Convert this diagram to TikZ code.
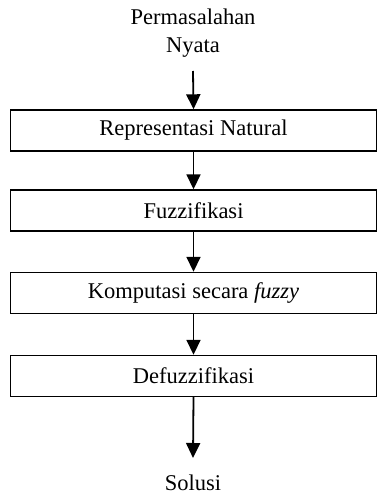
\documentclass[tikz,border=0pt]{standalone}
\usepackage{fontspec}
\setmainfont{Liberation Serif}
\usetikzlibrary{arrows.meta}
\begin{document}
\begin{tikzpicture}[x=1pt,y=-1pt,
  stepbox/.style={draw, line width=1.4pt, minimum width=366pt, minimum height=41pt, inner sep=0pt, font=\fontsize{22.5}{28}\selectfont},
  lbl/.style={font=\fontsize{22.5}{28}\selectfont, align=center, inner sep=0pt},
  flow/.style={line width=1.8pt, -{Triangle[length=15pt,width=14pt]}}]
\useasboundingbox (0,0) rectangle (377,494);
\node[lbl] (p) at (193,33) {Permasalahan\\Nyata};
\coordinate (ps) at (193,71);
\node[stepbox] (b1) at (193.5,130.5) {Representasi Natural};
\node[stepbox] (b2) at (193.5,210.5) {Fuzzifikasi};
\node[stepbox] (b3) at (193.5,293) {Komputasi secara \textit{fuzzy}};
\node[stepbox] (b4) at (193.5,376) {Defuzzifikasi};
\coordinate (se) at (193,458);
\node[lbl, anchor=base] (s) at (193,490) {Solusi};
\draw[flow] (ps) -- (b1.north);
\draw[flow] (b1.south) -- (b2.north);
\draw[flow] (b2.south) -- (b3.north);
\draw[flow] (b3.south) -- (b4.north);
\draw[flow] (b4.south) -- (se);
\end{tikzpicture}
\end{document}
